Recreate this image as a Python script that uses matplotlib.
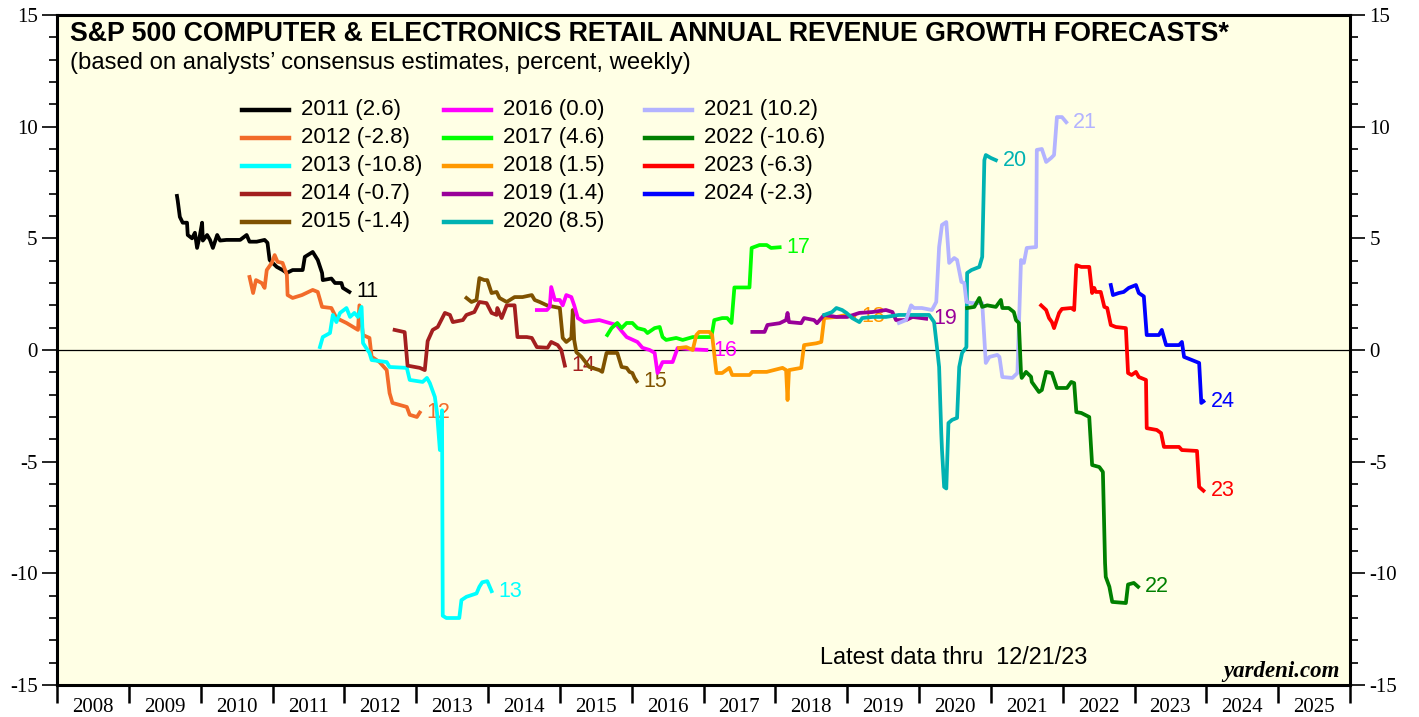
import matplotlib
matplotlib.use('Agg')
import matplotlib.pyplot as plt
from matplotlib.lines import Line2D
from matplotlib.ticker import MultipleLocator

plt.rcParams['font.family'] = ['Liberation Sans', 'DejaVu Sans']
plt.rcParams['axes.unicode_minus'] = False

# weekly consensus forecasts (decimal year, percent)
t_2011 = [2009.67, 2009.68, 2009.71, 2009.75, 2009.81, 2009.82, 2009.88, 2009.92, 2009.95, 2009.99,
          2010.02, 2010.03, 2010.09, 2010.13, 2010.17, 2010.23, 2010.27, 2010.36, 2010.55, 2010.64,
          2010.68, 2010.78, 2010.89, 2010.93, 2010.96, 2011.06, 2011.14, 2011.20, 2011.28, 2011.42,
          2011.45, 2011.56, 2011.63, 2011.69, 2011.70, 2011.82, 2011.87, 2011.96, 2011.98, 2012.07]
v_2011 = [6.9, 6.7, 5.96, 5.7, 5.7, 5.15, 5.0, 5.25, 4.57, 5.15,
          5.7, 4.9, 5.15, 4.93, 4.57, 5.15, 4.9, 4.93, 4.93, 5.15,
          4.85, 4.85, 4.93, 4.8, 4.03, 3.72, 3.58, 3.45, 3.58, 3.58,
          4.17, 4.39, 4.03, 3.45, 3.13, 3.2, 3.0, 3.0, 2.78, 2.6]

t_2012 = [2010.68, 2010.73, 2010.77, 2010.85, 2010.89, 2010.92, 2010.99, 2011.03, 2011.07, 2011.14,
          2011.20, 2011.21, 2011.28, 2011.41, 2011.56, 2011.63, 2011.69, 2011.82, 2011.89, 2012.03,
          2012.19, 2012.21, 2012.26, 2012.35, 2012.38, 2012.49, 2012.59, 2012.63, 2012.67, 2012.87,
          2012.91, 2013.01, 2013.05]
v_2012 = [3.27, 2.55, 3.13, 3.0, 2.78, 3.58, 3.9, 4.25, 3.95, 3.9,
          3.36, 2.46, 2.33, 2.46, 2.69, 2.6, 1.93, 1.88, 1.43, 1.21,
          0.9, 2.0, 0.67, 0.54, -0.3, -0.54, -0.9, -1.93, -2.37, -2.55,
          -2.9, -3.0, -2.8]

t_2013 = [2011.66, 2011.70, 2011.80, 2011.84, 2011.89, 2011.94, 2012.03, 2012.08, 2012.14, 2012.19,
          2012.24, 2012.26, 2012.35, 2012.38, 2012.59, 2012.63, 2012.87, 2012.91, 2013.09, 2013.15,
          2013.19, 2013.26, 2013.29, 2013.33, 2013.36, 2013.37, 2013.42, 2013.60, 2013.63, 2013.70,
          2013.84, 2013.88, 2013.92, 2013.99, 2014.05]
v_2013 = [0.13, 0.58, 0.76, 1.57, 1.25, 1.66, 1.88, 1.48, 1.66, 1.48,
          1.93, 0.31, -0.13, -0.45, -0.54, -0.76, -0.8, -1.34, -1.43, -1.25,
          -1.48, -2.1, -2.8, -4.48, -2.7, -11.9, -12.0, -12.0, -11.2, -11.05,
          -10.9, -10.6, -10.4, -10.35, -10.8]

t_2014 = [2012.70, 2012.84, 2012.88, 2013.05, 2013.12, 2013.16, 2013.23, 2013.30, 2013.40, 2013.47,
          2013.51, 2013.65, 2013.70, 2013.81, 2013.88, 2013.98, 2014.05, 2014.12, 2014.13, 2014.19,
          2014.26, 2014.37, 2014.41, 2014.54, 2014.61, 2014.68, 2014.83, 2014.88, 2014.97, 2015.02,
          2015.07]
v_2014 = [0.9, 0.8, -0.7, -0.8, -0.9, 0.4, 0.9, 1.03, 1.66, 1.57,
          1.25, 1.34, 1.57, 1.7, 2.15, 2.1, 1.66, 1.57, 1.88, 1.43,
          2.0, 2.0, 0.58, 0.58, 0.54, 0.13, 0.1, 0.36, 0.22, 0.0,
          -0.7]

t_2015 = [2013.70, 2013.77, 2013.84, 2013.88, 2013.95, 2013.99, 2014.05, 2014.12, 2014.16, 2014.26,
          2014.37, 2014.48, 2014.61, 2014.65, 2014.72, 2014.82, 2015.00, 2015.04, 2015.09, 2015.16,
          2015.18, 2015.20, 2015.23, 2015.30, 2015.41, 2015.55, 2015.59, 2015.65, 2015.80, 2015.86,
          2015.93, 2015.97, 2016.01, 2016.04, 2016.07]
v_2015 = [2.33, 2.15, 2.24, 3.22, 3.13, 3.13, 2.55, 2.6, 2.33, 2.15,
          2.37, 2.37, 2.46, 2.24, 2.15, 2.0, 1.88, 0.54, 0.36, 0.54,
          1.79, 0.45, -0.1, -0.3, -0.76, -0.9, -0.98, -0.13, -0.13, -0.76,
          -0.8, -0.98, -1.03, -1.25, -1.4]

t_2016 = [2014.68, 2014.82, 2014.86, 2014.88, 2014.93, 2015.00, 2015.04, 2015.09, 2015.16, 2015.20,
          2015.25, 2015.34, 2015.55, 2015.69, 2015.79, 2015.87, 2015.93, 2016.08, 2016.15, 2016.25,
          2016.32, 2016.36, 2016.43, 2016.57, 2016.64, 2016.80, 2017.04]
v_2016 = [1.79, 1.79, 1.93, 2.82, 2.24, 2.24, 2.0, 2.46, 2.37, 2.0,
          1.43, 1.25, 1.34, 1.21, 1.12, 0.81, 0.58, 0.36, 0.1, 0.0,
          -0.13, -1.03, -0.54, -0.54, 0.09, 0.04, 0.0]

t_2017 = [2015.66, 2015.72, 2015.80, 2015.86, 2015.93, 2016.01, 2016.08, 2016.18, 2016.22, 2016.32,
          2016.39, 2016.43, 2016.48, 2016.62, 2016.71, 2016.85, 2017.11, 2017.15, 2017.26, 2017.33,
          2017.39, 2017.43, 2017.64, 2017.67, 2017.78, 2017.88, 2017.94, 2018.06]
v_2017 = [0.67, 0.98, 1.21, 0.98, 1.21, 1.21, 0.98, 0.9, 0.76, 0.98,
          1.03, 0.58, 0.45, 0.54, 0.45, 0.58, 0.58, 1.34, 1.43, 1.43,
          1.21, 2.8, 2.8, 4.57, 4.7, 4.7, 4.57, 4.6]

t_2018 = [2016.66, 2016.76, 2016.85, 2016.90, 2016.94, 2017.08, 2017.12, 2017.18, 2017.26, 2017.36,
          2017.40, 2017.64, 2017.68, 2017.88, 2018.10, 2018.15, 2018.17, 2018.19, 2018.36, 2018.40,
          2018.57, 2018.64, 2018.68, 2018.85, 2018.99, 2019.10]
v_2018 = [0.09, 0.13, 0.0, 0.67, 0.81, 0.81, 0.67, -1.03, -1.03, -0.8,
          -1.12, -1.12, -0.98, -0.98, -0.8, -0.9, -2.24, -0.9, -0.8, 0.22,
          0.3, 0.36, 1.43, 1.48, 1.57, 1.5]

t_2019 = [2017.68, 2017.85, 2017.89, 2018.06, 2018.15, 2018.17, 2018.19, 2018.36, 2018.40, 2018.54,
          2018.58, 2018.68, 2018.85, 2019.00, 2019.17, 2019.35, 2019.54, 2019.63, 2019.68, 2019.82,
          2019.91, 2020.10]
v_2019 = [0.81, 0.81, 1.12, 1.2, 1.34, 1.66, 1.25, 1.2, 1.43, 1.34,
          1.2, 1.57, 1.48, 1.48, 1.66, 1.7, 1.79, 1.7, 1.34, 1.34,
          1.48, 1.4]

t_2020 = [2018.68, 2018.79, 2018.85, 2018.93, 2018.99, 2019.07, 2019.17, 2019.21, 2019.35, 2019.54,
          2019.72, 2020.14, 2020.21, 2020.25, 2020.28, 2020.31, 2020.32, 2020.35, 2020.38, 2020.41,
          2020.46, 2020.53, 2020.56, 2020.60, 2020.66, 2020.67, 2020.73, 2020.84, 2020.88, 2020.91,
          2020.93, 2021.00, 2021.07]
v_2020 = [1.57, 1.7, 1.88, 1.79, 1.66, 1.43, 1.25, 1.43, 1.48, 1.48,
          1.57, 1.57, 1.25, 0.13, -0.76, -3.72, -4.48, -6.13, -6.2, -3.27,
          -3.13, -3.04, -0.76, -0.13, 0.13, 3.45, 3.58, 3.72, 4.17, 8.5,
          8.73, 8.6, 8.5]

t_2021 = [2019.72, 2019.82, 2019.89, 2019.93, 2020.04, 2020.18, 2020.24, 2020.28, 2020.32, 2020.38,
          2020.42, 2020.49, 2020.53, 2020.59, 2020.63, 2020.66, 2020.74, 2020.88, 2020.93, 2020.98,
          2021.09, 2021.12, 2021.16, 2021.30, 2021.37, 2021.42, 2021.46, 2021.50, 2021.63, 2021.64,
          2021.71, 2021.77, 2021.84, 2021.88, 2021.92, 2021.99, 2022.05]
v_2021 = [1.21, 1.34, 2.0, 1.88, 1.88, 1.79, 2.15, 4.61, 5.6, 5.73,
          3.9, 4.12, 4.03, 3.05, 3.0, 2.15, 2.1, 2.1, -0.58, -0.31,
          -0.22, -0.31, -1.21, -1.25, -1.03, 4.03, 3.9, 4.57, 4.61, 8.96,
          9.0, 8.42, 8.6, 8.73, 10.43, 10.43, 10.2]

t_2022 = [2020.67, 2020.77, 2020.84, 2020.88, 2020.95, 2021.07, 2021.14, 2021.16, 2021.25, 2021.32,
          2021.35, 2021.39, 2021.42, 2021.43, 2021.49, 2021.56, 2021.57, 2021.67, 2021.71, 2021.77,
          2021.85, 2021.92, 2022.06, 2022.12, 2022.16, 2022.19, 2022.26, 2022.37, 2022.41, 2022.51,
          2022.56, 2022.59, 2022.60, 2022.65, 2022.69, 2022.88, 2022.91, 2022.99, 2023.05]
v_2022 = [1.88, 1.93, 2.33, 1.93, 2.0, 1.93, 2.24, 1.88, 1.88, 1.7,
          1.34, 1.21, -1.03, -1.25, -0.98, -1.2, -1.43, -1.88, -1.79, -0.98,
          -1.03, -1.7, -1.7, -1.43, -1.48, -2.78, -2.82, -3.0, -5.15, -5.24,
          -5.46, -9.54, -10.16, -10.6, -11.28, -11.33, -10.5, -10.43, -10.6]

t_2023 = [2021.70, 2021.77, 2021.81, 2021.85, 2021.88, 2021.95, 2021.99, 2022.12, 2022.16, 2022.19,
          2022.26, 2022.37, 2022.41, 2022.44, 2022.46, 2022.53, 2022.58, 2022.62, 2022.67, 2022.74,
          2022.88, 2022.91, 2022.96, 2023.02, 2023.06, 2023.16, 2023.17, 2023.31, 2023.37, 2023.41,
          2023.62, 2023.66, 2023.87, 2023.90, 2023.96]
v_2023 = [2.0, 1.79, 1.43, 1.25, 0.98, 1.66, 1.84, 1.88, 1.79, 3.8,
          3.72, 3.72, 2.55, 2.78, 2.6, 2.6, 1.93, 1.88, 1.12, 1.03,
          0.98, -1.03, -1.12, -0.98, -1.21, -1.34, -3.5, -3.58, -3.72, -4.34,
          -4.34, -4.48, -4.52, -6.13, -6.3]

t_2024 = [2022.67, 2022.70, 2022.78, 2022.85, 2022.92, 2023.02, 2023.06, 2023.13, 2023.17, 2023.34,
          2023.38, 2023.44, 2023.62, 2023.66, 2023.69, 2023.80, 2023.90, 2023.93, 2023.96]
v_2024 = [2.91, 2.46, 2.55, 2.6, 2.78, 2.91, 2.55, 2.4, 0.67, 0.67,
          0.9, 0.22, 0.22, 0.36, -0.31, -0.45, -0.58, -2.37, -2.3]

years = [2011, 2012, 2013, 2014, 2015, 2016, 2017, 2018, 2019, 2020, 2021, 2022, 2023, 2024]
times = [t_2011, t_2012, t_2013, t_2014, t_2015, t_2016, t_2017, t_2018, t_2019, t_2020,
         t_2021, t_2022, t_2023, t_2024]
values = [v_2011, v_2012, v_2013, v_2014, v_2015, v_2016, v_2017, v_2018, v_2019, v_2020,
          v_2021, v_2022, v_2023, v_2024]
colors = ['#000000', '#F26B2A', '#00FFFF', '#A31F1F', '#7F5200', '#FF00FF', '#00FF00',
          '#FF9900', '#990099', '#00B2B2', '#B3B3FF', '#008000', '#FF0000', '#0000FF']

W, H = 1419, 717
fig = plt.figure(figsize=(W / 100, H / 100), dpi=100)
ax = fig.add_axes([57 / W, 32 / H, 1293 / W, 670 / H])
ax.set_facecolor('#FFFFE5')
ax.set_xlim(2008, 2026)
ax.set_ylim(-15, 15)
for s in ax.spines.values():
    s.set_linewidth(2.2)

ax.axhline(0, color='black', lw=0.9, zorder=1.5)

for i, (yr, t, v, c) in enumerate(zip(years, times, values, colors)):
    z = 2 + i * 0.01
    ax.plot(t, v, color=c, lw=2.7, zorder=z, solid_joinstyle='round')
    ax.annotate(str(yr)[2:], xy=(t[-1], v[-1]), xytext=(5, 0), textcoords='offset points',
                va='center', ha='left', fontsize=15.5, color=c, zorder=z)

# y axis, both sides
ax.yaxis.set_major_locator(MultipleLocator(5))
ax.yaxis.set_minor_locator(MultipleLocator(1))
ax.tick_params(axis='y', which='both', left=True, right=True, labelleft=True, labelright=True,
               direction='out')
ax.tick_params(axis='y', which='major', length=11, width=1.2, pad=3)
ax.tick_params(axis='y', which='minor', length=6, width=1.2)

# x axis: ticks at year boundaries, labels in between
ax.set_xticks(range(2008, 2027))
ax.set_xticklabels([])
ax.set_xticks([y + 0.5 for y in range(2008, 2026)], minor=True)
ax.set_xticklabels([str(y) for y in range(2008, 2026)], minor=True)
ax.tick_params(axis='x', which='major', length=13, width=1.8, direction='out')
ax.tick_params(axis='x', which='minor', length=0, pad=9)

for lab in ax.get_yticklabels() + ax.get_xticklabels(minor=True):
    lab.set_fontfamily('Liberation Serif')
    lab.set_fontsize(15)

# titles
fig.text(70 / W, 1 - 41 / H, 'S&P 500 COMPUTER & ELECTRONICS RETAIL ANNUAL REVENUE GROWTH FORECASTS*',
         fontsize=19.3, fontweight='bold', va='baseline', ha='left')
fig.text(70 / W, 1 - 69 / H, '(based on analysts\u2019 consensus estimates, percent, weekly)',
         fontsize=17.2, va='baseline', ha='left')

# legend, laid out in fixed columns
col_x = [242, 444, 645]
row_y = [110, 138, 166, 194, 222]
for i, (yr, v, c) in enumerate(zip(years, values, colors)):
    col, row = divmod(i, 5)
    x0 = col_x[col]
    y0 = 1 - row_y[row] / H
    fig.add_artist(Line2D([x0 / W, (x0 + 47) / W], [y0, y0], color=c, lw=3.2,
                          transform=fig.transFigure))
    fig.text((x0 + 59) / W, y0, f'{yr} ({v[-1]:.1f})', fontsize=16, va='center', ha='left')

fig.text(820 / W, 1 - 658 / H, 'Latest data thru  12/21/23', fontsize=16.9, va='center', ha='left')
fig.text(1340 / W, 1 - 677 / H, 'yardeni.com', fontsize=16.5, fontweight='bold', fontstyle='italic',
         fontfamily='Liberation Serif', va='baseline', ha='right')

fig.savefig('out.png', dpi=100, facecolor='white')
